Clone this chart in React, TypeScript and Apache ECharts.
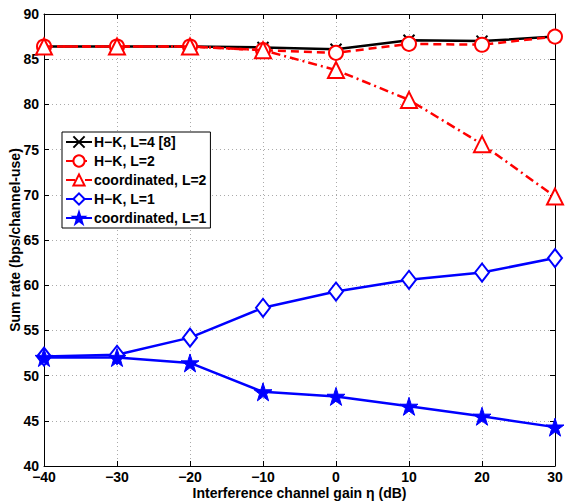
import React, { useEffect, useRef } from "react";
import * as echarts from "echarts";

const xValues = [-40, -30, -20, -10, 0, 10, 20, 30];
const hkL4 = [86.4, 86.4, 86.4, 86.3, 86.1, 87.1, 87.0, 87.5];
const hkL2 = [86.4, 86.4, 86.4, 86.0, 85.7, 86.7, 86.6, 87.5];
const coordL2 = [86.4, 86.4, 86.4, 86.0, 83.8, 80.5, 75.6, 69.8];
const hkL1 = [52.1, 52.3, 54.2, 57.5, 59.3, 60.6, 61.4, 63.0];
const coordL1 = [52.0, 52.0, 51.4, 48.2, 47.7, 46.6, 45.5, 44.3];
const seriesNames = ["H\u2212K, L=4 [8]", "H\u2212K, L=2", "coordinated, L=2", "H\u2212K, L=1", "coordinated, L=1"];

const xPath = "path://M0,0L10,10M10,0L0,10";
const starPath =
  "path://M50,0L61.8,35.5L99,35.5L69,57.5L80.5,93L50,71L19.5,93L31,57.5L1,35.5L38.2,35.5Z";

const FONT = "Liberation Sans, Arial, Helvetica, sans-serif";
const FS = 14;

function pairs(ys: number[]) {
  return xValues.map((x, i) => [x, ys[i]]);
}

export default function App() {
  const ref = useRef<HTMLDivElement>(null);
  useEffect(() => {
    if (!ref.current) return;
    const chart = echarts.init(ref.current, undefined, { renderer: "svg" });
    const fmt = (v: number) => String(v).replace("-", "\u2212");
    const axisCommon = {
      axisLine: { show: true, onZero: false, lineStyle: { color: "#000", width: 1 } },
      axisTick: { show: true, inside: true, length: 5, lineStyle: { color: "#000" } },
    };
    const txt = { fontFamily: FONT, fontWeight: "bold", fontSize: FS, color: "#000" };
    chart.setOption({
      animation: false,
      backgroundColor: "#fff",
      grid: { left: 44, right: 10, top: 14, bottom: 35, show: false, containLabel: false, outerBoundsMode: "none" },
      legend: {
        orient: "vertical",
        left: 62,
        top: 132,
        data: seriesNames,
        backgroundColor: "#fff",
        borderColor: "#000",
        borderWidth: 1,
        borderRadius: 0,
        padding: [3, 4, 3, 3],
        itemGap: 5,
        itemWidth: 26,
        itemHeight: 14,
        textStyle: { ...txt, padding: [0, 0, 0, -3] },
      },
      xAxis: [
        {
          type: "value",
          min: -40,
          max: 30,
          interval: 10,
          name: "Interference channel gain \u03b7 (dB)",
          nameLocation: "middle",
          nameGap: 20,
          nameMoveOverlap: false,
          nameTextStyle: txt,
          ...axisCommon,
          axisLabel: { ...txt, formatter: fmt, margin: 4 },
          splitLine: { show: true, lineStyle: { color: "#aaa", type: [1, 3], width: 1 } },
        },
        {
          type: "value",
          position: "top",
          min: -40,
          max: 30,
          interval: 10,
          ...axisCommon,
          axisLabel: { show: false },
          splitLine: { show: false },
        },
      ],
      yAxis: [
        {
          type: "value",
          min: 40,
          max: 90,
          interval: 5,
          name: "Sum rate (bps/channel-use)",
          nameLocation: "middle",
          nameGap: 22,
          nameMoveOverlap: false,
          nameTextStyle: txt,
          ...axisCommon,
          axisLabel: { ...txt, margin: 5 },
          splitLine: { show: true, lineStyle: { color: "#aaa", type: [1, 3], width: 1 } },
        },
        {
          type: "value",
          position: "right",
          min: 40,
          max: 90,
          interval: 5,
          ...axisCommon,
          axisLabel: { show: false },
          splitLine: { show: false },
        },
      ],
      series: [
        {
          name: seriesNames[0],
          type: "line",
          data: pairs(hkL4),
          symbol: xPath,
          symbolSize: 11,
          lineStyle: { color: "#000", width: 2.5 },
          itemStyle: { color: "#000", borderColor: "#000", borderWidth: 2 },
          z: 3,
        },
        {
          name: seriesNames[1],
          type: "line",
          data: pairs(hkL2),
          symbol: "emptyCircle",
          symbolSize: 14,
          lineStyle: { color: "#f00", width: 2.5, type: [8, 5] },
          itemStyle: { color: "#f00", borderColor: "#f00", borderWidth: 2.5 },
          z: 4,
        },
        {
          name: seriesNames[2],
          type: "line",
          data: pairs(coordL2),
          symbol: "emptyTriangle",
          symbolSize: 16,
          lineStyle: { color: "#f00", width: 2.5, type: [9, 4, 2, 4] },
          itemStyle: { color: "#f00", borderColor: "#f00", borderWidth: 2.5 },
          z: 5,
        },
        {
          name: seriesNames[3],
          type: "line",
          data: pairs(hkL1),
          symbol: "emptyDiamond",
          symbolSize: [14, 18],
          lineStyle: { color: "#00f", width: 2.5 },
          itemStyle: { color: "#00f", borderColor: "#00f", borderWidth: 2 },
          z: 3,
        },
        {
          name: seriesNames[4],
          type: "line",
          data: pairs(coordL1),
          symbol: starPath,
          symbolSize: 18,
          lineStyle: { color: "#00f", width: 2.5 },
          itemStyle: { color: "#00f", borderColor: "#00f", borderWidth: 1 },
          z: 3,
        },
      ],
    });
    return () => chart.dispose();
  }, []);
  return <div ref={ref} style={{ width: 565, height: 501, position: "absolute", left: 0, top: 0 }} />;
}
